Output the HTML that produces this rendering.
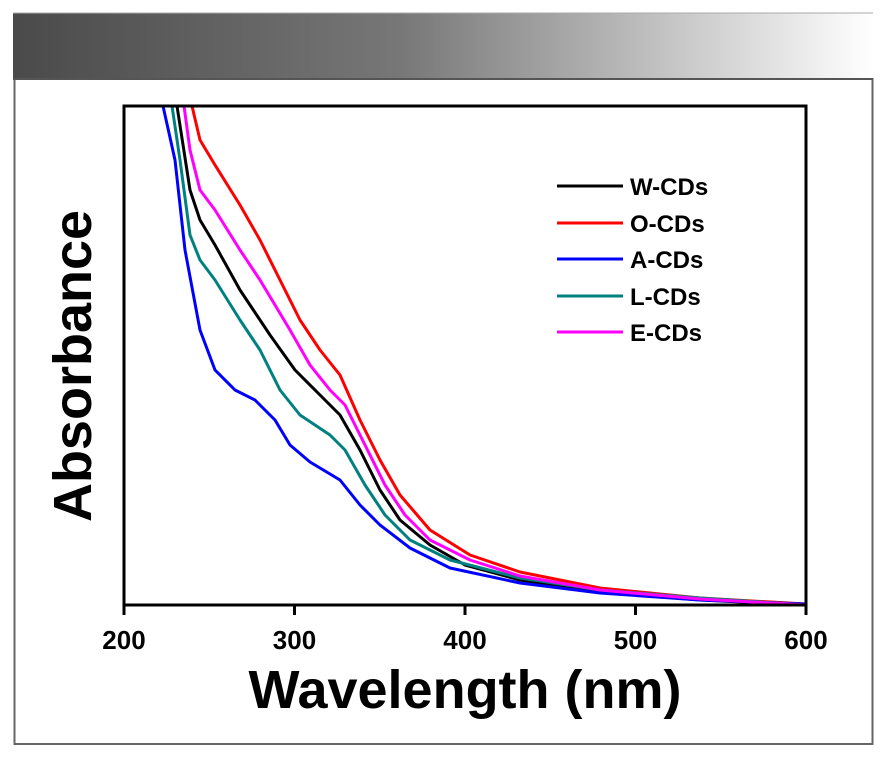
<!DOCTYPE html>
<html><head><style>body{margin:0;background:#fff}</style></head><body>
<svg width="886" height="756" xmlns="http://www.w3.org/2000/svg" font-family="Liberation Sans, sans-serif" font-weight="bold">
<defs><linearGradient id="g" x1="0" x2="1"><stop offset="0" stop-color="#4a4a4a"/><stop offset="0.45" stop-color="#777"/><stop offset="1" stop-color="#fff"/></linearGradient></defs>
<rect x="13" y="13" width="860" height="66" fill="url(#g)"/>
<line x1="13" y1="13" x2="873" y2="13" stroke="#aaa" stroke-width="1"/>
<rect x="14.5" y="79" width="858" height="665" fill="#fff" stroke="#666" stroke-width="2"/>
<line x1="13" y1="79" x2="873" y2="79" stroke="#555" stroke-width="2"/>
<g fill="none" stroke-width="3" stroke-linejoin="round">
<polyline stroke="#000" points="177,106 190,190 200,220 215,245 240,290 270,335 295,370 320,395 340,415 360,450 380,490 400,520 430,545 465,565 520,580 600,592 700,600 806,605"/>
<polyline stroke="#f00" points="192,106 200,140 215,165 240,205 260,240 280,280 300,320 320,350 340,375 360,420 380,460 400,495 430,530 470,555 520,572 600,588 700,598 806,604"/>
<polyline stroke="#00f" points="163,106 175,160 185,250 200,330 215,370 235,390 255,400 275,420 290,445 310,462 340,480 360,505 380,525 410,548 450,568 520,583 600,593 700,600 806,604"/>
<polyline stroke="#008080" points="172,106 180,160 190,235 200,260 215,280 240,320 260,350 280,390 300,415 330,435 345,450 365,485 385,515 410,540 450,560 520,578 600,590 700,598 806,605"/>
<polyline stroke="#f0f" points="184,106 190,150 200,190 215,210 240,250 260,280 290,330 310,365 330,390 345,405 365,445 385,485 405,515 430,540 470,560 520,576 600,590 700,599 806,605"/>
</g>
<rect x="124" y="106" width="682" height="499" fill="none" stroke="#000" stroke-width="3"/>
<g stroke="#000" stroke-width="3"><line x1="124" y1="605" x2="124" y2="615"/><line x1="294.5" y1="605" x2="294.5" y2="615"/><line x1="465" y1="605" x2="465" y2="615"/><line x1="635.5" y1="605" x2="635.5" y2="615"/><line x1="806" y1="605" x2="806" y2="615"/></g>
<g font-size="26" text-anchor="middle"><text x="124" y="649">200</text><text x="294.5" y="649">300</text><text x="465" y="649">400</text><text x="635.5" y="649">500</text><text x="806" y="649">600</text></g>
<text x="465" y="708" font-size="54" text-anchor="middle">Wavelength (nm)</text>
<text transform="translate(91,366) rotate(-90)" font-size="54" text-anchor="middle">Absorbance</text>
<g stroke-width="3"><line x1="557" y1="186" x2="623" y2="186" stroke="#000"/><line x1="557" y1="223" x2="623" y2="223" stroke="#f00"/><line x1="557" y1="259" x2="623" y2="259" stroke="#00f"/><line x1="557" y1="296" x2="623" y2="296" stroke="#008080"/><line x1="557" y1="332" x2="623" y2="332" stroke="#f0f"/></g>
<g font-size="24"><text x="630" y="195">W-CDs</text><text x="630" y="232">O-CDs</text><text x="630" y="268">A-CDs</text><text x="630" y="305">L-CDs</text><text x="630" y="341">E-CDs</text></g>
</svg>
</body></html>
